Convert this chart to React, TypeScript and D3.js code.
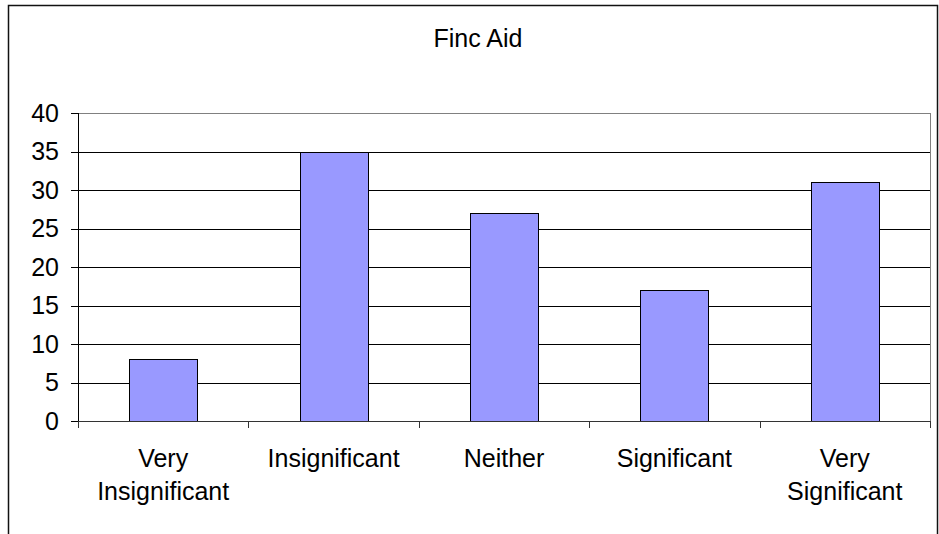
import * as d3 from 'd3';
import {useMemo} from 'react';

const WIDTH = 939;
const HEIGHT = 534;

const categories = ['Very Insignificant', 'Insignificant', 'Neither', 'Significant', 'Very Significant'];
const labelLines = [['Very', 'Insignificant'], ['Insignificant'], ['Neither'], ['Significant'], ['Very', 'Significant']];
const values = [8, 35, 27, 17, 31];
const yTicks = [0, 5, 10, 15, 20, 25, 30, 35, 40];
const title = 'Finc Aid';

const plot = {left: 78, right: 930, top: 113, bottom: 421};
const FONT = '"Liberation Sans", Arial, sans-serif';
const FS = 25;

function App() {
  const x = useMemo(
    () => d3.scaleBand<string>().domain(categories).range([plot.left, plot.right]).padding(0),
    []
  );
  const y = useMemo(() => d3.scaleLinear().domain([0, 40]).range([plot.bottom, plot.top]), []);
  const bw = x.bandwidth();
  const barW = bw * 0.4;

  return (
    <svg
      width={WIDTH}
      height={HEIGHT}
      style={{position: 'absolute', left: 0, top: 0, background: '#fff'}}
      fontFamily={FONT}
    >
      <rect x={8.5} y={5.5} width={929} height={600} fill="#fff" stroke="#111" strokeWidth={1.5} />
      <text x={478} y={47} fontSize={FS} textAnchor="middle" fill="#000">{title}</text>

      {/* gridlines */}
      {yTicks.filter((t) => t > 0 && t < 40).map((t) => (
        <line key={t} x1={plot.left} x2={plot.right} y1={Math.round(y(t)) + 0.5} y2={Math.round(y(t)) + 0.5} stroke="#000" />
      ))}
      {/* plot area border (top/right) */}
      <line x1={plot.left} x2={plot.right} y1={plot.top + 0.5} y2={plot.top + 0.5} stroke="#808080" />
      <line x1={plot.right + 0.5} x2={plot.right + 0.5} y1={plot.top} y2={plot.bottom} stroke="#808080" />

      {/* bars */}
      {categories.map((c, i) => (
        <rect
          key={c}
          x={Math.round(x(c)! + (bw - barW) / 2) + 0.5}
          y={Math.round(y(values[i])) + 0.5}
          width={Math.round(barW)}
          height={Math.round(y(0)) - Math.round(y(values[i]))}
          fill="#9999FF"
          stroke="#000"
        />
      ))}

      {/* y axis */}
      <line x1={plot.left + 0.5} x2={plot.left + 0.5} y1={plot.top} y2={plot.bottom} stroke="#000" />
      {yTicks.map((t) => (
        <g key={t}>
          <line x1={plot.left - 7} x2={plot.left} y1={Math.round(y(t)) + 0.5} y2={Math.round(y(t)) + 0.5} stroke="#000" />
          <text x={59} y={y(t) + 8.5} fontSize={FS} textAnchor="end" fill="#000">{t}</text>
        </g>
      ))}

      {/* x axis */}
      <line x1={plot.left} x2={plot.right + 1} y1={plot.bottom + 0.5} y2={plot.bottom + 0.5} stroke="#333" />
      {[...categories.map((c) => x(c)!), plot.right].map((v, i) => (
        <line key={i} x1={Math.round(v) + 0.5} x2={Math.round(v) + 0.5} y1={plot.bottom} y2={plot.bottom + 7} stroke="#333" />
      ))}
      {categories.map((c, i) => (
        <text key={c} x={x(c)! + bw / 2} fontSize={FS} textAnchor="middle" fill="#000">
          {labelLines[i].map((line, j) => (
            <tspan key={j} x={x(c)! + bw / 2} y={467 + j * 33}>{line}</tspan>
          ))}
        </text>
      ))}
    </svg>
  );
}

export default App;
